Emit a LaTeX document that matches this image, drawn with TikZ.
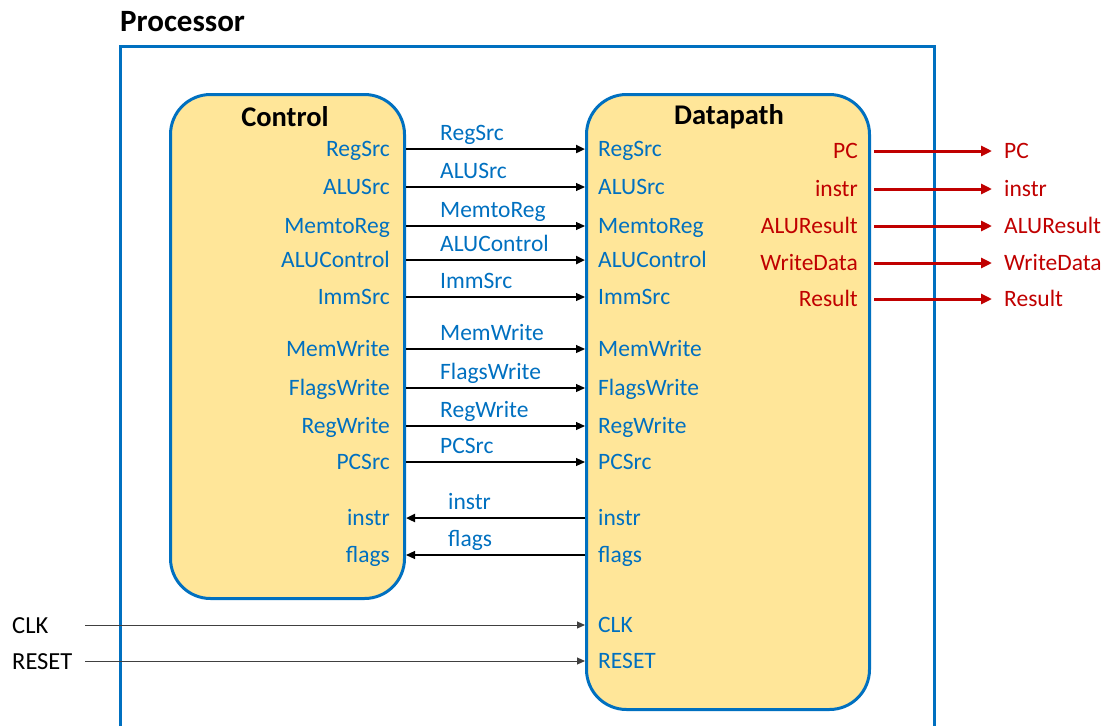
\documentclass[tikz,border=0pt]{standalone}
\usepackage{fontspec}
\setmainfont{Carlito}
\usetikzlibrary{arrows.meta}
\definecolor{cblue}{HTML}{0070C0}
\definecolor{cred}{HTML}{C00000}
\definecolor{cyel}{HTML}{FFE699}
\begin{document}
\begin{tikzpicture}[x=1pt,y=-1pt,
  unitbox/.style={draw=cblue, line width=3pt, fill=cyel, rounded corners=40pt, inner sep=0pt},
  title/.style={font=\fontsize{28.5}{32}\selectfont\bfseries, text=black, inner sep=0pt},
  ptitle/.style={font=\fontsize{31}{34}\selectfont\bfseries, text=black, inner sep=0pt},
  sig/.style={font=\fontsize{23.5}{27}\selectfont, text=cblue, inner sep=0pt},
  outsig/.style={font=\fontsize{23.5}{27}\selectfont, text=cred, inner sep=0pt},
  extsig/.style={font=\fontsize{24.5}{28}\selectfont, text=black, inner sep=0pt},
  thinw/.style={line width=1.1pt, -{Triangle[length=9pt,width=8pt]}},
  thickw/.style={line width=2.4pt, -{Triangle[length=9pt,width=8pt]}},
  redw/.style={cred, line width=3pt, -{Triangle[length=11pt,width=10pt]}},
  clkw/.style={line width=1pt, draw={rgb,255:red,64;green,64;blue,64}, -{Triangle[length=8pt,width=7pt]}}
]
\useasboundingbox (0,0) rectangle (1109,726);
% Processor frame (open at the bottom)
\draw[cblue, line width=3pt] (120,726) -- (120,46) -- (934,46) -- (934,726);
\node[ptitle, anchor=west] (proc) at (120,22) {Processor};

% Units
\node[unitbox, minimum width=234pt, minimum height=504pt, anchor=north west] (ctrl) at (169,93) {};
\node[unitbox, minimum width=283pt, minimum height=615pt, anchor=north west] (dp) at (585,93) {};
\node[title] (ctrlt) at (285,117) {Control};
\node[title] (dpt) at (729,117) {Datapath};

% Control -> Datapath signals
\foreach \n/\y/\w in {RegSrc/149/thickw, ALUSrc/187/thinw, MemtoReg/226/thinw, ALUControl/260/thickw, ImmSrc/297/thinw, MemWrite/349/thinw, FlagsWrite/388/thinw, RegWrite/426/thinw, PCSrc/462/thinw}{
  \node[sig, anchor=base east] (c\n) at (390,\y+7) {\n};
  \node[sig, anchor=base west] (d\n) at (598,\y+7) {\n};
  \draw[\w] (ctrl.east |- 0,\y) coordinate (s\n) -- (dp.west |- s\n) coordinate (e\n);
  \node[sig, anchor=base west] (l\n) at (440,\y-9) {\n};
}

% Datapath -> Control signals
\foreach \n/\y/\w in {instr/518/thickw, flags/555/thinw}{
  \node[sig, anchor=base east] (c\n) at (390,\y+7) {\n};
  \node[sig, anchor=base west] (d\n) at (598,\y+7) {\n};
  \draw[\w] (dp.west |- 0,\y) coordinate (s\n) -- (ctrl.east |- s\n) coordinate (e\n);
  \node[sig, anchor=base west] (l\n) at (448,\y-9) {\n};
}

% Datapath outputs
\foreach \n/\y in {PC/151, instr/189, ALUResult/226, WriteData/263, Result/299}{
  \node[outsig, anchor=base east] (o\n) at (858,\y+7) {\n};
  \node[outsig, anchor=base west] (x\n) at (1004,\y+7) {\n};
  \path (dp.east |- 0,\y) ++(3,0) coordinate (os\n);
  \path (x\n.west |- os\n) ++(-12,0) coordinate (oe\n);
  \draw[redw] (os\n) -- (oe\n);
}

% External inputs
\foreach \n/\y in {CLK/625, RESET/661}{
  \node[extsig, anchor=base west] (in\n) at (12,\y+8) {\n};
  \node[sig, anchor=base west] (d\n) at (598,\y+7) {\n};
  \coordinate (st\n) at (85,\y);
  \draw[clkw] (st\n) -- (dp.west |- st\n);
}
\end{tikzpicture}
\end{document}
